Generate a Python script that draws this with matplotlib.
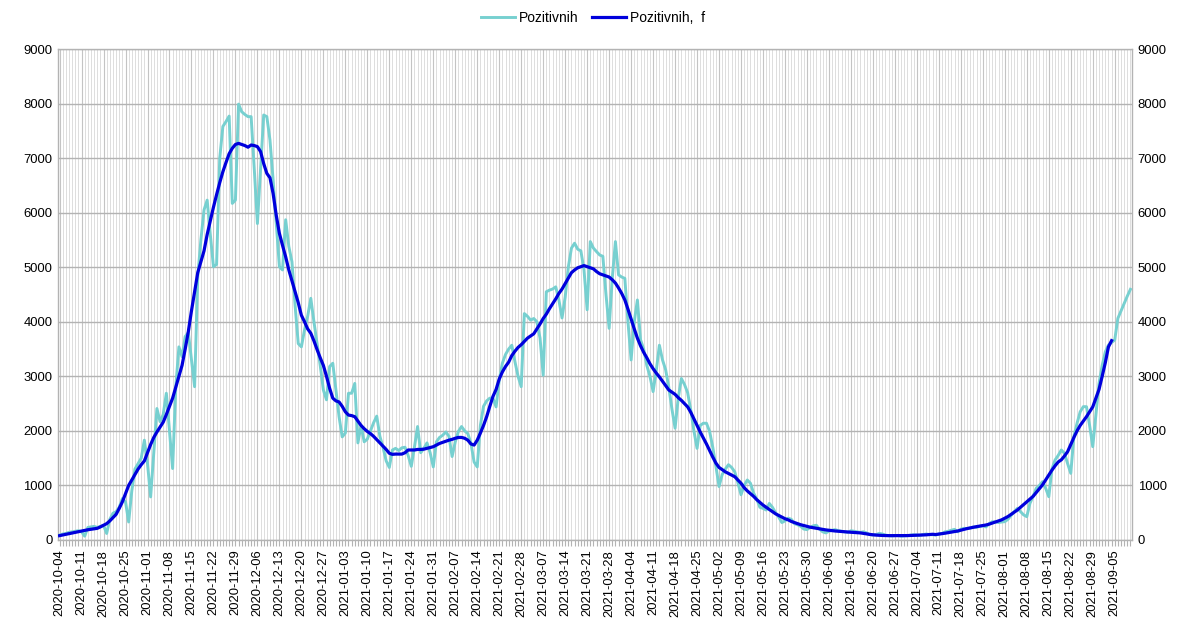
import matplotlib
matplotlib.use('Agg')
import matplotlib.pyplot as plt
import numpy as np
import pandas as pd

plt.rcParams['font.family'] = ['Liberation Sans', 'DejaVu Sans']

start_date = '2020-10-04'

pozitivnih = [
    90, 110, 120, 140, 150, 160, 170, 150, 70, 230,
    240, 250, 230, 250, 270, 120, 380, 490, 520, 600,
    760, 700, 330, 900, 1300, 1400, 1500, 1830, 1400, 790,
    1600, 2410, 2170, 2300, 2690, 2000, 1310, 2800, 3540, 3360,
    3730, 3800, 3300, 2810, 4830, 5500, 6050, 6230, 5600, 5010,
    5050, 7000, 7580, 7670, 7770, 6170, 6230, 7990, 7850, 7800,
    7760, 7760, 6800, 5800, 6800, 7790, 7760, 7330, 6600, 5800,
    5010, 4950, 5870, 5380, 5100, 4300, 3600, 3540, 3850, 4100,
    4430, 4000, 3600, 3200, 2750, 2570, 3180, 3240, 2750, 2260,
    1890, 1960, 2690, 2690, 2870, 1780, 2100, 1800, 1850, 2000,
    2150, 2270, 1900, 1700, 1450, 1330, 1650, 1680, 1640, 1690,
    1700, 1550, 1350, 1700, 2080, 1600, 1680, 1780, 1600, 1340,
    1800, 1880, 1920, 1980, 1900, 1530, 1800, 1990, 2080, 2000,
    1950, 1770, 1430, 1340, 2100, 2450, 2550, 2600, 2600, 2440,
    2930, 3240, 3400, 3500, 3570, 3270, 3000, 2810, 4150, 4100,
    4030, 4060, 4000, 3700, 3020, 4550, 4580, 4600, 4640, 4400,
    4070, 4450, 5000, 5350, 5440, 5330, 5300, 4950, 4220, 5470,
    5350, 5285, 5224, 5200, 4500, 3880, 4800, 5470, 4860, 4820,
    4796, 4000, 3300, 4000, 4400, 3670, 3500, 3200, 3000, 2720,
    3100, 3570, 3300, 3120, 2800, 2400, 2050, 2600, 2960, 2850,
    2700, 2380, 2000, 1680, 2100, 2140, 2140, 1990, 1700, 1350,
    980, 1200, 1300, 1380, 1330, 1250, 1050, 830, 1000, 1100,
    1040, 860, 750, 600, 580, 550, 670, 600, 500, 420,
    320, 350, 400, 380, 300, 280, 250, 200, 190, 230,
    260, 270, 200, 150, 130, 160, 180, 190, 170, 160,
    150, 140, 170, 160, 150, 140, 150, 130, 100, 90,
    100, 120, 110, 90, 80, 75, 80, 85, 70, 75,
    80, 90, 95, 90, 85, 100, 110, 100, 95, 92,
    110, 120, 150, 160, 180, 195, 150, 200, 214, 210,
    220, 240, 232, 250, 260, 240, 300, 336, 330, 320,
    330, 336, 380, 450, 520, 580, 520, 460, 428, 672,
    800, 947, 1000, 1069, 950, 794, 1300, 1466, 1550, 1650,
    1589, 1400, 1222, 1900, 2139, 2350, 2444, 2444, 2100, 1711,
    2300, 2872, 3200, 3450, 3574, 3620, 3666, 4063, 4200, 4338, 4470, 4595,
]

pozitivnih_f = [
    80, 92, 104, 116, 128, 140, 152, 164, 176, 188,
    196, 205, 214, 240, 270, 300, 350, 410, 470, 580,
    700, 850, 1000, 1100, 1200, 1300, 1380, 1450, 1600, 1750,
    1880, 1980, 2070, 2160, 2300, 2450, 2600, 2800, 3000, 3200,
    3500, 3820, 4200, 4550, 4900, 5100, 5300, 5600, 5850, 6100,
    6330, 6550, 6750, 6920, 7080, 7180, 7250, 7270, 7250, 7230,
    7200, 7240, 7230, 7210, 7120, 6900, 6720, 6640, 6350, 5950,
    5620, 5400, 5190, 4950, 4750, 4550, 4350, 4120, 4000, 3870,
    3790, 3650, 3490, 3340, 3200, 3000, 2780, 2600, 2550, 2530,
    2450, 2350, 2290, 2280, 2260, 2180, 2100, 2040, 1990, 1950,
    1900, 1840, 1780, 1720, 1660, 1590, 1570, 1575, 1575, 1575,
    1600, 1650, 1650, 1650, 1660, 1660, 1665, 1680, 1695, 1710,
    1740, 1770, 1790, 1810, 1830, 1845, 1865, 1880, 1880, 1865,
    1830, 1760, 1740, 1830, 1960, 2100, 2260, 2450, 2630, 2760,
    2950, 3080, 3180, 3260, 3380, 3460, 3530, 3580, 3640, 3700,
    3740, 3780, 3870, 3960, 4060, 4140, 4240, 4330, 4420, 4520,
    4600, 4700, 4800, 4900, 4950, 4990, 5010, 5030, 5010, 4990,
    4970, 4920, 4880, 4860, 4840, 4820, 4770, 4710, 4620, 4520,
    4400, 4230, 4050, 3870, 3700, 3560, 3440, 3340, 3230, 3140,
    3060, 2990, 2910, 2830, 2750, 2710, 2670, 2610, 2560, 2500,
    2440, 2340, 2220, 2100, 1980, 1870, 1760, 1640, 1520, 1410,
    1330, 1290, 1250, 1220, 1190, 1160, 1100, 1040, 960, 900,
    850, 800, 740, 690, 640, 600, 560, 520, 480, 450,
    420, 390, 370, 340, 320, 300, 280, 265, 250, 235,
    225, 214, 205, 195, 185, 178, 170, 165, 160, 155,
    150, 146, 142, 138, 135, 130, 122, 112, 102, 95,
    90, 86, 83, 81, 80, 80, 80, 80, 80, 80,
    81, 83, 85, 87, 88, 90, 95, 100, 105, 100,
    108, 116, 125, 135, 145, 155, 165, 180, 195, 210,
    222, 235, 245, 255, 265, 275, 290, 310, 330, 350,
    370, 400, 430, 470, 510, 550, 600, 650, 700, 750,
    800, 870, 940, 1010, 1100, 1190, 1280, 1360, 1430, 1470,
    1540, 1620, 1750, 1880, 2000, 2100, 2180, 2260, 2350, 2440,
    2600, 2760, 3000, 3250, 3540, 3654,
]

y_ticks = [0, 1000, 2000, 3000, 4000, 5000, 6000, 7000, 8000, 9000]

n = len(pozitivnih)
x_raw = np.arange(n)
x_f = np.arange(len(pozitivnih_f))
dates = pd.date_range(start_date, periods=n, freq='D')
tick_pos = np.arange(0, n, 7)
tick_labels = [dates[i].strftime('%Y-%m-%d') for i in tick_pos]

W, H = 1186, 625
fig = plt.figure(figsize=(W / 100, H / 100), dpi=100)
L, R, T, B = 58, 1132, 49, 540
ax = fig.add_axes([L / W, 1 - B / H, (R - L) / W, (B - T) / H])

# grid
ax.set_xticks(np.arange(n), minor=True)
ax.grid(axis='x', which='minor', color='#dddddd', lw=0.7, zorder=0)
ax.grid(axis='x', which='major', color='#c4c4c4', lw=0.8, zorder=0)
ax.grid(axis='y', which='major', color='#b3b3b3', lw=1.0, zorder=0)
ax.set_axisbelow(True)

ax.plot(x_raw, pozitivnih, color='#77d0d0', lw=2.1, label='Pozitivnih',
        solid_joinstyle='round', zorder=3)
ax.plot(x_f, pozitivnih_f, color='#0000dc', lw=2.3, label='Pozitivnih,  f',
        solid_joinstyle='round', zorder=4)

ax.set_xlim(-0.5, n - 0.5)
ax.set_ylim(0, 9000)
ax.set_yticks(y_ticks)
ax.set_yticklabels([str(v) for v in y_ticks])
ax.set_xticks(tick_pos)
ax.set_xticklabels(tick_labels, rotation=90)

ax.tick_params(axis='both', which='both', labelsize=9.4, colors='#b3b3b3',
               labelcolor='#000000')
ax.tick_params(axis='x', which='both', length=4, width=0.8, pad=3)
ax.tick_params(axis='y', which='major', length=0, pad=4, labelright=True)

for s in ax.spines.values():
    s.set_color('#b3b3b3')
    s.set_linewidth(1.0)

fig.legend(loc='center', bbox_to_anchor=(0.5, 1 - 18 / H), ncol=2,
           frameon=False, fontsize=10, handlelength=2.4, columnspacing=1.0,
           handletextpad=0.3)

fig.savefig('out.png', dpi=100)
